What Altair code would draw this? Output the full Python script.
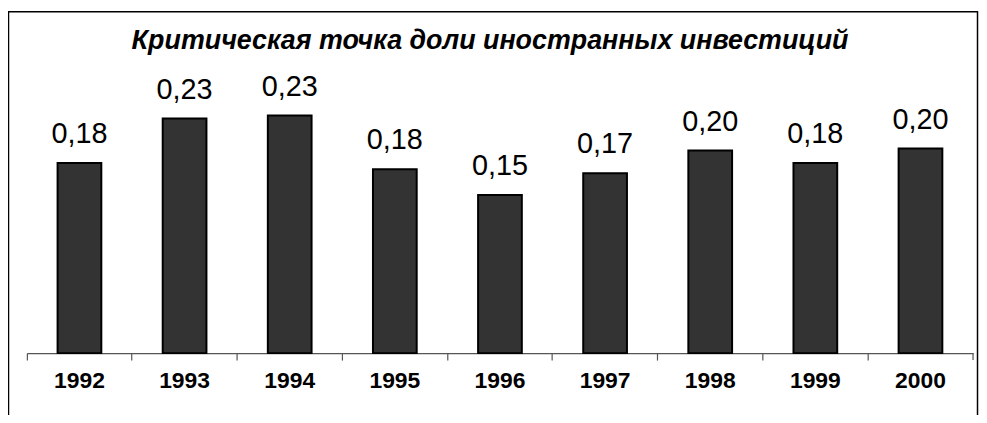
import altair as alt
import pandas as pd

years = ["1992", "1993", "1994", "1995", "1996", "1997", "1998", "1999", "2000"]
values = [0.184, 0.227, 0.230, 0.178, 0.153, 0.174, 0.196, 0.184, 0.198]
title_text = "Критическая точка доли иностранных инвестиций"

W, H = 952, 312

df = pd.DataFrame({"year": years, "value": values})

x = alt.X("year:N", sort=years, title=None,
          scale=alt.Scale(paddingInner=0, paddingOuter=0),
          axis=alt.Axis(labelAngle=0, bandPosition=0, domainColor="#555555",
                        domainWidth=1.2, tickColor="#555555", tickSize=7,
                        tickWidth=1.2, labelFontSize=23, labelFontWeight="bold",
                        labelFont="Liberation Sans", labelColor="black",
                        labelPadding=10, grid=False))
y = alt.Y("value:Q", scale=alt.Scale(domain=[0, 0.3], nice=False), axis=None)

base = alt.Chart(df)
bars = base.mark_bar(size=44, color="#333333", stroke="black", strokeWidth=2).encode(x=x, y=y)
labels = base.transform_calculate(
    lab="replace(format(datum.value, '.2f'), '.', ',')"
).mark_text(font="Liberation Sans", fontSize=29, dy=-20, baseline="alphabetic",
            color="black").encode(x=alt.X("year:N", sort=years, bandPosition=0.5), y=y, text="lab:N")

one = pd.DataFrame({"t": [title_text]})
title = alt.Chart(one).mark_text(font="Liberation Sans", fontSize=27, fontStyle="italic",
                                 fontWeight="bold", baseline="alphabetic", align="center",
                                 color="black").encode(
    text="t:N", x=alt.value(466), y=alt.value(6))

end_tick = alt.Chart(one).mark_rule(color="#555555", strokeWidth=1.2).encode(
    x=alt.value(W), y=alt.value(H), y2=alt.value(H + 7))

frame_l = alt.Chart(one).mark_rule(color="black", strokeWidth=1.5).encode(
    x=alt.value(-18.5), y=alt.value(-32), y2=alt.value(380))
frame_t = alt.Chart(one).mark_rule(color="black", strokeWidth=1.5).encode(
    x=alt.value(-19), x2=alt.value(957), y=alt.value(-31.5))
frame_r = alt.Chart(one).mark_rule(color="black", strokeWidth=1.5).encode(
    x=alt.value(956.5), y=alt.value(-32), y2=alt.value(380))

chart = alt.layer(bars, labels, title, end_tick, frame_l, frame_t, frame_r).properties(
    width=W, height=H,
    autosize=alt.AutoSizeParams(type="none"),
    padding={"left": 19, "top": 34, "right": 6, "bottom": 61},
    background="white",
).configure_view(stroke=None)

chart.save("out.html", embed_options={"renderer": "svg", "actions": False})
